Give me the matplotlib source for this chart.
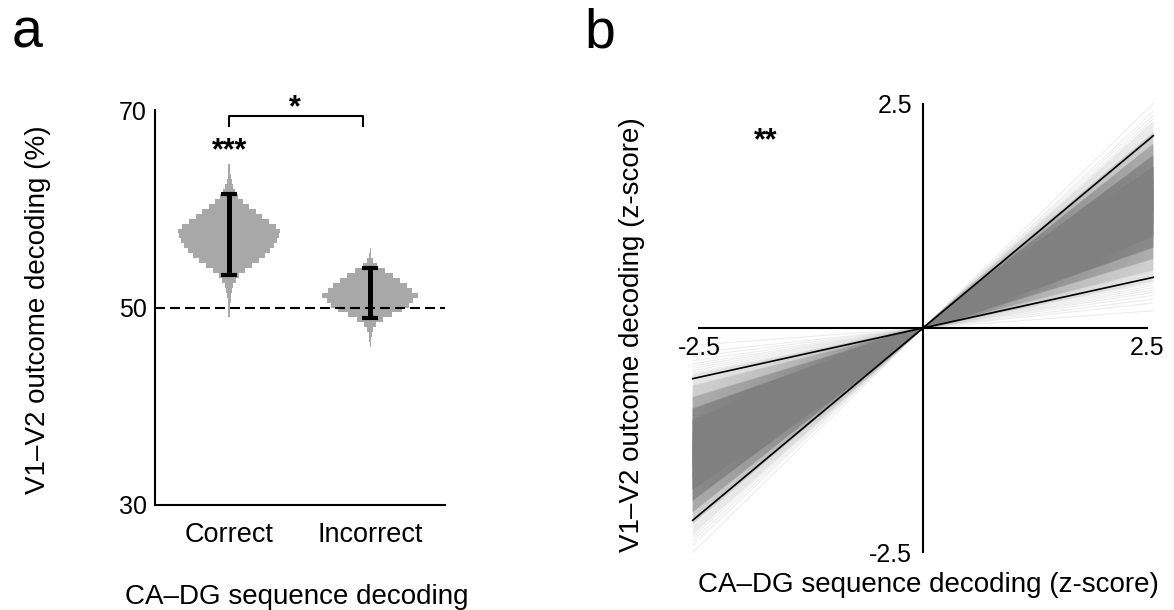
import numpy as np
import matplotlib.pyplot as plt
from matplotlib.collections import LineCollection

plt.rcParams['font.family'] = ['Liberation Sans', 'DejaVu Sans']
plt.rcParams['font.size'] = 18

# ---- panel a: distributions of V1-V2 outcome decoding ----
groups = ['Correct', 'Incorrect']
group_pos = [1, 2]

# histogram bins (% decoding) and half-widths of each stepped violin
correct_bins = np.arange(48.5, 65.01, 0.5)
correct_width = [0.3, 0.6, 1.0, 1.2, 1.5, 2, 3, 4, 7, 10, 16, 23, 30, 36, 41, 45,
                 48, 50, 51, 47, 40, 33, 27, 20, 14, 9, 6, 4, 2.5, 1.5, 1, 0.6, 0.3]
incorrect_bins = np.arange(46.0, 56.01, 0.5)
incorrect_width = [0.5, 1, 1.5, 3, 6, 13, 22, 32, 39, 43, 48, 42, 37, 30, 23,
                   15, 7, 3, 1, 0.4]

ci_low = [53.3, 48.9]
ci_high = [61.5, 54.0]
chance = 50

# ---- panel b: bootstrapped regression slopes ----
slope_bins = np.arange(0.05, 1.001, 0.05)
slope_counts = [1, 3, 5, 14, 28, 59, 123, 193, 252, 297, 297, 252, 193, 104,
                52, 23, 8, 3, 1]
slope_ci = [0.22, 0.835]
x_span = 2.57

fig = plt.figure(figsize=(11.74, 6.10), dpi=100)

ax = fig.add_axes([155 / 1174, 1 - 505 / 610, 290 / 1174, 395 / 610])
ax.set_xlim(0.475, 2.53)
ax.set_ylim(30, 70)

scale = 1 / 141
for pos, bins, widths in [(1, correct_bins, correct_width),
                          (2, incorrect_bins, incorrect_width)]:
    w = np.array(widths) * scale
    centers = (bins[:-1] + bins[1:]) / 2
    ax.barh(centers, 2 * w, left=pos - w, height=bins[1] - bins[0],
            color='#a8a8a8', linewidth=0, zorder=1)

ax.axhline(chance, color='k', lw=1.5, ls=(0, (4.8, 2.4)), zorder=2)

ci_low = np.array(ci_low)
ci_high = np.array(ci_high)
ax.errorbar(group_pos, ci_low, yerr=[np.zeros(2), ci_high - ci_low], fmt='none',
            ecolor='k', elinewidth=3.6, capsize=6, capthick=3, zorder=3)

# significance marks
ax.plot([1, 1, 1.95, 1.95], [68.4, 69.4, 69.4, 68.4], color='k', lw=1.5,
        clip_on=False)
ax.text(1.468, 69.4, '*', ha='center', va='baseline', fontsize=22,
        fontweight='bold')
ax.text(1.0, 65.0, '***', ha='center', va='baseline', fontsize=22,
        fontweight='bold')

for side in ['top', 'right']:
    ax.spines[side].set_visible(False)
for side in ['left', 'bottom']:
    ax.spines[side].set_linewidth(1.5)
ax.set_yticks([30, 50, 70])
ax.set_xticks(group_pos)
ax.set_xticklabels(groups, fontsize=19.5)
ax.tick_params(axis='y', length=0, pad=6)
ax.tick_params(axis='x', length=0, pad=12)

fig.text(38 / 1174, 1 - 310 / 610, 'V1–V2 outcome decoding (%)', rotation=90,
         ha='center', va='center', fontsize=20)
fig.text(297 / 1174, 1 - 597 / 610, 'CA–DG sequence decoding',
         ha='center', va='center', fontsize=20)

# ---- panel b ----
bx = fig.add_axes([690 / 1174, 1 - 561 / 610, 466 / 1174, 466 / 610])
bx.set_xlim(-2.6, 2.6)
bx.set_ylim(-2.6, 2.6)

segs = []
for lo, hi, n in zip(slope_bins[:-1], slope_bins[1:], slope_counts):
    step = (hi - lo) / n
    for s in lo + step / 2 + step * np.arange(n):
        segs.append([(-x_span, -x_span * s), (x_span, x_span * s)])
bx.add_collection(LineCollection(segs, colors='#808080', alpha=0.15,
                                 linewidths=0.8, zorder=1))
for s in slope_ci:
    bx.plot([-x_span, x_span], [-x_span * s, x_span * s], color='k', lw=1.2,
            zorder=3)

for side in ['top', 'right']:
    bx.spines[side].set_visible(False)
for side in ['left', 'bottom']:
    bx.spines[side].set_position(('data', 0))
    bx.spines[side].set_bounds(-2.5, 2.5)
    bx.spines[side].set_linewidth(1.5)
bx.set_xticks([-2.5, 2.5])
bx.set_xticklabels(['-2.5', '2.5'])
bx.set_yticks([-2.5, 2.5])
bx.set_yticklabels(['-2.5', '2.5'])
bx.tick_params(axis='x', length=0, pad=6)
bx.tick_params(axis='y', length=0, pad=8)

bx.text(-1.76, 2.0, '**', ha='center', va='baseline', fontsize=22,
        fontweight='bold')

fig.text(632 / 1174, 1 - 335 / 610, 'V1–V2 outcome decoding (z-score)',
         rotation=90, ha='center', va='center', fontsize=20)
fig.text(928 / 1174, 1 - 585 / 610, 'CA–DG sequence decoding (z-score)',
         ha='center', va='center', fontsize=20)

fig.text(12 / 1174, 1 - 47 / 610, 'a', fontsize=40, va='baseline')
fig.text(584 / 1174, 1 - 47 / 610, 'b', fontsize=40, va='baseline')

fig.savefig('out.png', dpi=100)
